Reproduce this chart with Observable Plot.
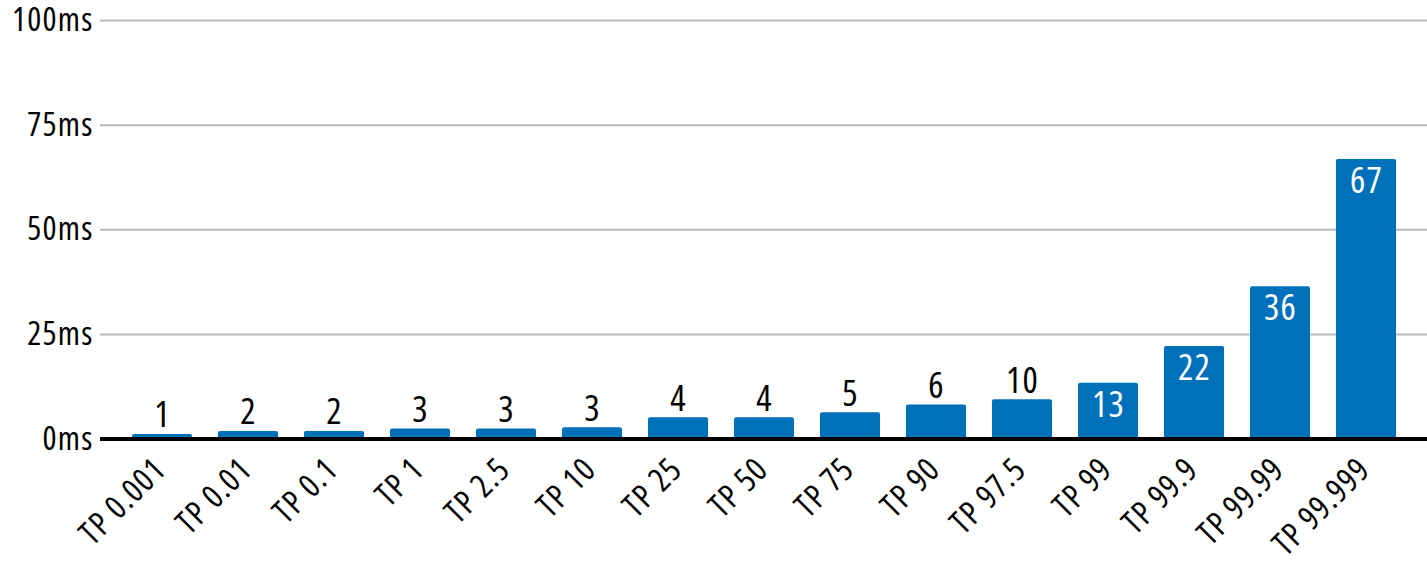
<!DOCTYPE html>
<html>
<head>
<meta charset="utf-8">
<script src="https://cdn.jsdelivr.net/npm/d3@7"></script>
<script src="https://cdn.jsdelivr.net/npm/@observablehq/plot@0.6"></script>
<style>
  html, body { margin: 0; padding: 0; background: #fff; }
  #chart svg { display: block; }
  #chart svg text { font-stretch: 75%; font-weight: 500; letter-spacing: 1.2px; }
</style>
</head>
<body>
<div id="chart"></div>
<script>
const categories = ["TP 0.001", "TP 0.01", "TP 0.1", "TP 1", "TP 2.5", "TP 10", "TP 25", "TP 50", "TP 75", "TP 90", "TP 97.5", "TP 99", "TP 99.9", "TP 99.99", "TP 99.999"];
const latencyMs = [1.1, 1.8, 1.8, 2.4, 2.4, 2.7, 5.1, 5.1, 6.3, 8.1, 9.4, 13.3, 22.1, 36.4, 66.8];
const valueLabels = ["1", "2", "2", "3", "3", "3", "4", "4", "5", "6", "10", "13", "22", "36", "67"];
const labelInside = [false, false, false, false, false, false, false, false, false, false, false, true, true, true, true];
const yTicks = [0, 25, 50, 75, 100];

const data = categories.map((c, i) => ({cat: c, value: latencyMs[i], label: valueLabels[i], inside: labelInside[i]}));

const FONT = "'Open Sans', 'DejaVu Sans', sans-serif";

const chart = Plot.plot({
  width: 1427,
  height: 579,
  marginLeft: 100,
  marginRight: 0,
  marginTop: 20,
  marginBottom: 140.5,
  style: {fontFamily: FONT, background: "#fff", color: "#000"},
  x: {type: "band", domain: categories, paddingInner: 0.305, paddingOuter: 0.335, axis: null},
  y: {domain: [0, 100], axis: null},
  marks: [
    Plot.ruleY(yTicks.filter(d => d > 0), {stroke: "#bbbbbb", strokeWidth: 2}),
    Plot.barY(data, {x: "cat", y: "value", fill: "#0070bb", rx: 2}),
    Plot.ruleY([0], {stroke: "#000", strokeWidth: 4}),
    Plot.axisY({ticks: yTicks, tickFormat: d => d + "ms", tickSize: 0, tickPadding: 7, fontSize: 33, fill: "#000", label: null}),
    Plot.axisX({tickSize: 0, tickRotate: -45, tickPadding: 25, dx: -2, fontSize: 33, fill: "#000", label: null}),
    Plot.text(data.filter(d => !d.inside), {x: "cat", y: "value", text: "label", dy: -7, lineAnchor: "bottom", fontSize: 36, fill: "#000"}),
    Plot.text(data.filter(d => d.inside), {x: "cat", y: "value", text: "label", dy: 8, lineAnchor: "top", fontSize: 36, fill: "#fff"})
  ]
});
document.getElementById("chart").appendChild(chart);
</script>
</body>
</html>
